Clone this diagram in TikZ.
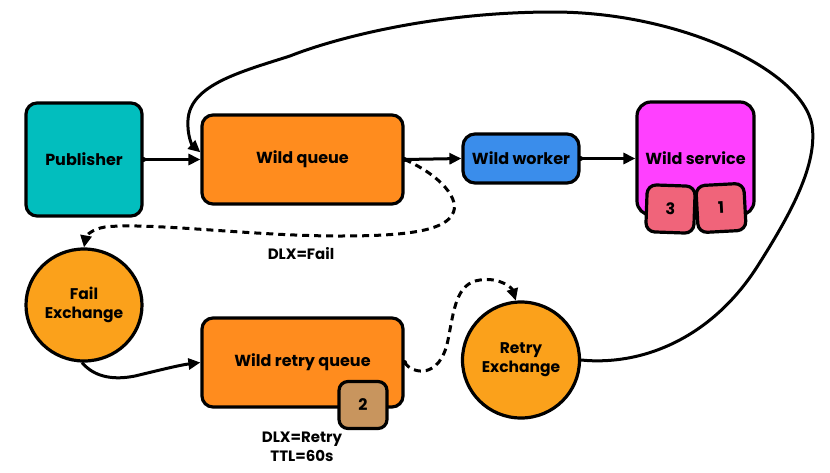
\documentclass[tikz,border=0pt]{standalone}
\usepackage{fontspec}
\setmainfont{Poppins}
\usetikzlibrary{arrows.meta,shapes.geometric,calc}
\definecolor{cteal}{RGB}{2,190,190}
\definecolor{corange}{RGB}{255,140,30}
\definecolor{cblue}{RGB}{58,141,235}
\definecolor{cmag}{RGB}{255,64,255}
\definecolor{cpink}{RGB}{240,100,122}
\definecolor{cyell}{RGB}{251,161,27}
\definecolor{ctan}{RGB}{200,149,94}
\tikzset{
  box/.style={draw=black, line width=3.2pt, rounded corners=11pt, font=\bfseries\fontsize{16}{18}\selectfont, align=center, inner sep=0pt},
  smallbox/.style={draw=black, line width=3.2pt, rounded corners=9pt, font=\bfseries\fontsize{16}{18}\selectfont, inner sep=0pt, minimum width=48pt, minimum height=47pt},
  exch/.style={draw=black, line width=3.2pt, ellipse, fill=cyell, font=\bfseries\fontsize{15.5}{19}\selectfont, align=center, inner sep=0pt},
  conn/.style={line width=3pt, -{Triangle[length=12pt,width=11pt]}},
  dconn/.style={conn, dash pattern=on 7pt off 5pt},
  lab/.style={font=\bfseries\fontsize{15}{19}\selectfont, align=center, inner sep=0pt}
}
\begin{document}
\begin{tikzpicture}[x=1pt,y=-1pt]
\useasboundingbox (0,0) rectangle (830,472);
% nodes
\node[box, fill=cteal, minimum width=116pt, minimum height=113pt] (pub) at (84,159.5) {Publisher};
\node[box, fill=corange, minimum width=201pt, minimum height=89pt] (wq) at (302.5,159.5) {Wild queue};
\node[box, fill=cblue, minimum width=116pt, minimum height=49pt, rounded corners=12pt] (ww) at (521,158.5) {Wild worker};
\node[box, fill=cmag, minimum width=117pt, minimum height=113pt, rounded corners=14pt] (ws) at (695.5,158.5) {Wild service};
\node[smallbox, fill=cpink, rotate=-2] (s3) at (670.5,209) {3};
\node[smallbox, fill=cpink, rotate=3] (s1) at (721,208) {1};
\node[exch, minimum width=116pt, minimum height=112pt] (fex) at (84,305) {Fail\\Exchange};
\node[box, fill=corange, minimum width=201pt, minimum height=89pt] (rq) at (302.5,362.5) {Wild retry queue};
\node[smallbox, fill=ctan] (s2) at (363,405) {2};
\node[exch, minimum width=117pt, minimum height=116pt] (rex) at (521,360) {Retry\\Exchange};
% labels
\node[lab] (l1) at (301,254) {DLX=Fail};
\node[lab] (l2) at (302,447) {DLX=Retry\\TTL=60s};
% connectors
\draw[conn] (pub.east) -- (wq.west);
\fill (pub.east) circle (2.5pt);
\draw[conn] (wq.east) -- (ww.west);
\fill (wq.east) circle (2.5pt);
\draw[conn] (ww.east) -- (ws.west);
\fill (ww.east) circle (2.5pt);
\draw[dconn] (wq.east) .. controls (440,175) and (462,200) .. (452,215)
  .. controls (442,232) and (400,236) .. (340,236)
  .. controls (250,236) and (150,222) .. (105,227)
  .. controls (92,229) and (86,236) .. (fex.north);
\draw[conn] (fex.-92) .. controls (95,378) and (115,380) .. (135,376)
  .. controls (160,370) and (180,365) .. (rq.west);
\draw[dconn] (rq.east) .. controls (412,374) and (440,380) .. (448,340)
  .. controls (454,310) and (456,283) .. (480,280)
  .. controls (500,277) and (512,288) .. (rex.95);
\fill (rq.east) circle (2.5pt);
\draw[conn] (rex.east) .. controls (640,366) and (710,340) .. (757,267)
  .. controls (790,215) and (818,165) .. (812,125)
  .. controls (802,70) and (680,12) .. (553,12)
  .. controls (430,12) and (330,40) .. (290,56)
  .. controls (240,72) and (190,85) .. (188,120)
  .. controls (187,135) and (192,145) .. (wq.176);
\end{tikzpicture}
\end{document}
